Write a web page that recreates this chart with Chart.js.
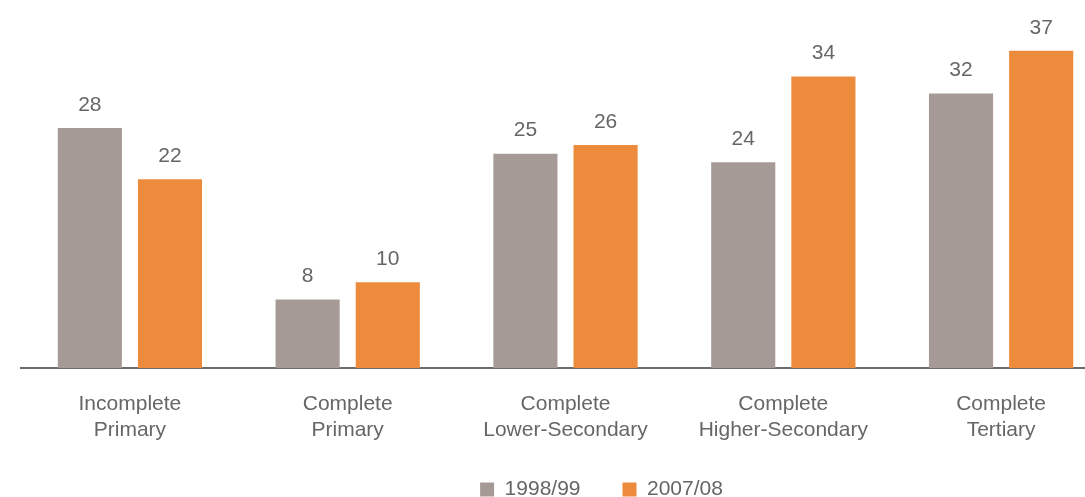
<!DOCTYPE html>
<html>
<head>
<meta charset="utf-8">
<script src="https://cdn.jsdelivr.net/npm/chart.js@4"></script>
<style>
  html, body { margin: 0; padding: 0; background: #fff; overflow: hidden; }
  #wrap { width: 1085px; height: 497px; overflow: hidden; }
</style>
</head>
<body>
<div id="wrap"><canvas id="chart" width="1110" height="519"></canvas></div>
<script>
const categories = [
    ['Incomplete', 'Primary'],
    ['Complete', 'Primary'],
    ['Complete', 'Lower-Secondary'],
    ['Complete', 'Higher-Secondary'],
    ['Complete', 'Tertiary']
];
const seriesNames = ['1998/99', '2007/08'];
const values1998 = [28, 8, 25, 24, 32];
const values2007 = [22, 10, 26, 34, 37];

const textColor = '#666666';
const fontFamily = '"Liberation Sans", Arial, sans-serif';

// value labels above the bars
const barLabels = {
    id: 'barLabels',
    afterDatasetsDraw(chart) {
        const ctx = chart.ctx;
        ctx.save();
        ctx.fillStyle = textColor;
        ctx.font = '21px ' + fontFamily;
        ctx.textAlign = 'center';
        ctx.textBaseline = 'middle';
        chart.data.datasets.forEach((ds, i) => {
            chart.getDatasetMeta(i).data.forEach((bar, j) => {
                ctx.fillText(ds.data[j], bar.x, bar.y - 23);
            });
        });
        ctx.restore();
    }
};

// legend sits a bit right of centre and closer to the axis labels in the original
const legendShift = {
    id: 'legendShift',
    afterLayout(chart) {
        chart.legend.left += 72;
        chart.legend.top -= 9;
        chart.legend.bottom -= 9;
    }
};

new Chart(document.getElementById('chart').getContext('2d'), {
    type: 'bar',
    data: {
        labels: categories,
        datasets: [{
            label: seriesNames[0],
            data: values1998,
            backgroundColor: '#a69a96'
        }, {
            label: seriesNames[1],
            data: values2007,
            backgroundColor: '#ec8b3c'
        }]
    },
    options: {
        responsive: false,
        animation: false,
        categoryPercentage: 0.736,
        barPercentage: 0.8,
        layout: { padding: { top: 25, left: 21, right: 0, bottom: 0 } },
        scales: {
            x: {
                grid: { display: false },
                border: { display: true, color: '#6b6b6b', width: 2 },
                ticks: {
                    color: textColor,
                    font: { family: fontFamily, size: 21 },
                    padding: 16,
                    maxRotation: 0
                },
                afterFit(scale) {
                    scale.height = 78;
                }
            },
            y: {
                display: false,
                min: 0,
                max: 40
            }
        },
        plugins: {
            legend: {
                position: 'bottom',
                labels: {
                    color: textColor,
                    font: { family: fontFamily, size: 21 },
                    boxWidth: 14,
                    boxHeight: 14,
                    padding: 42
                }
            },
            tooltip: { enabled: false }
        }
    },
    plugins: [barLabels, legendShift]
});
</script>
</body>
</html>
